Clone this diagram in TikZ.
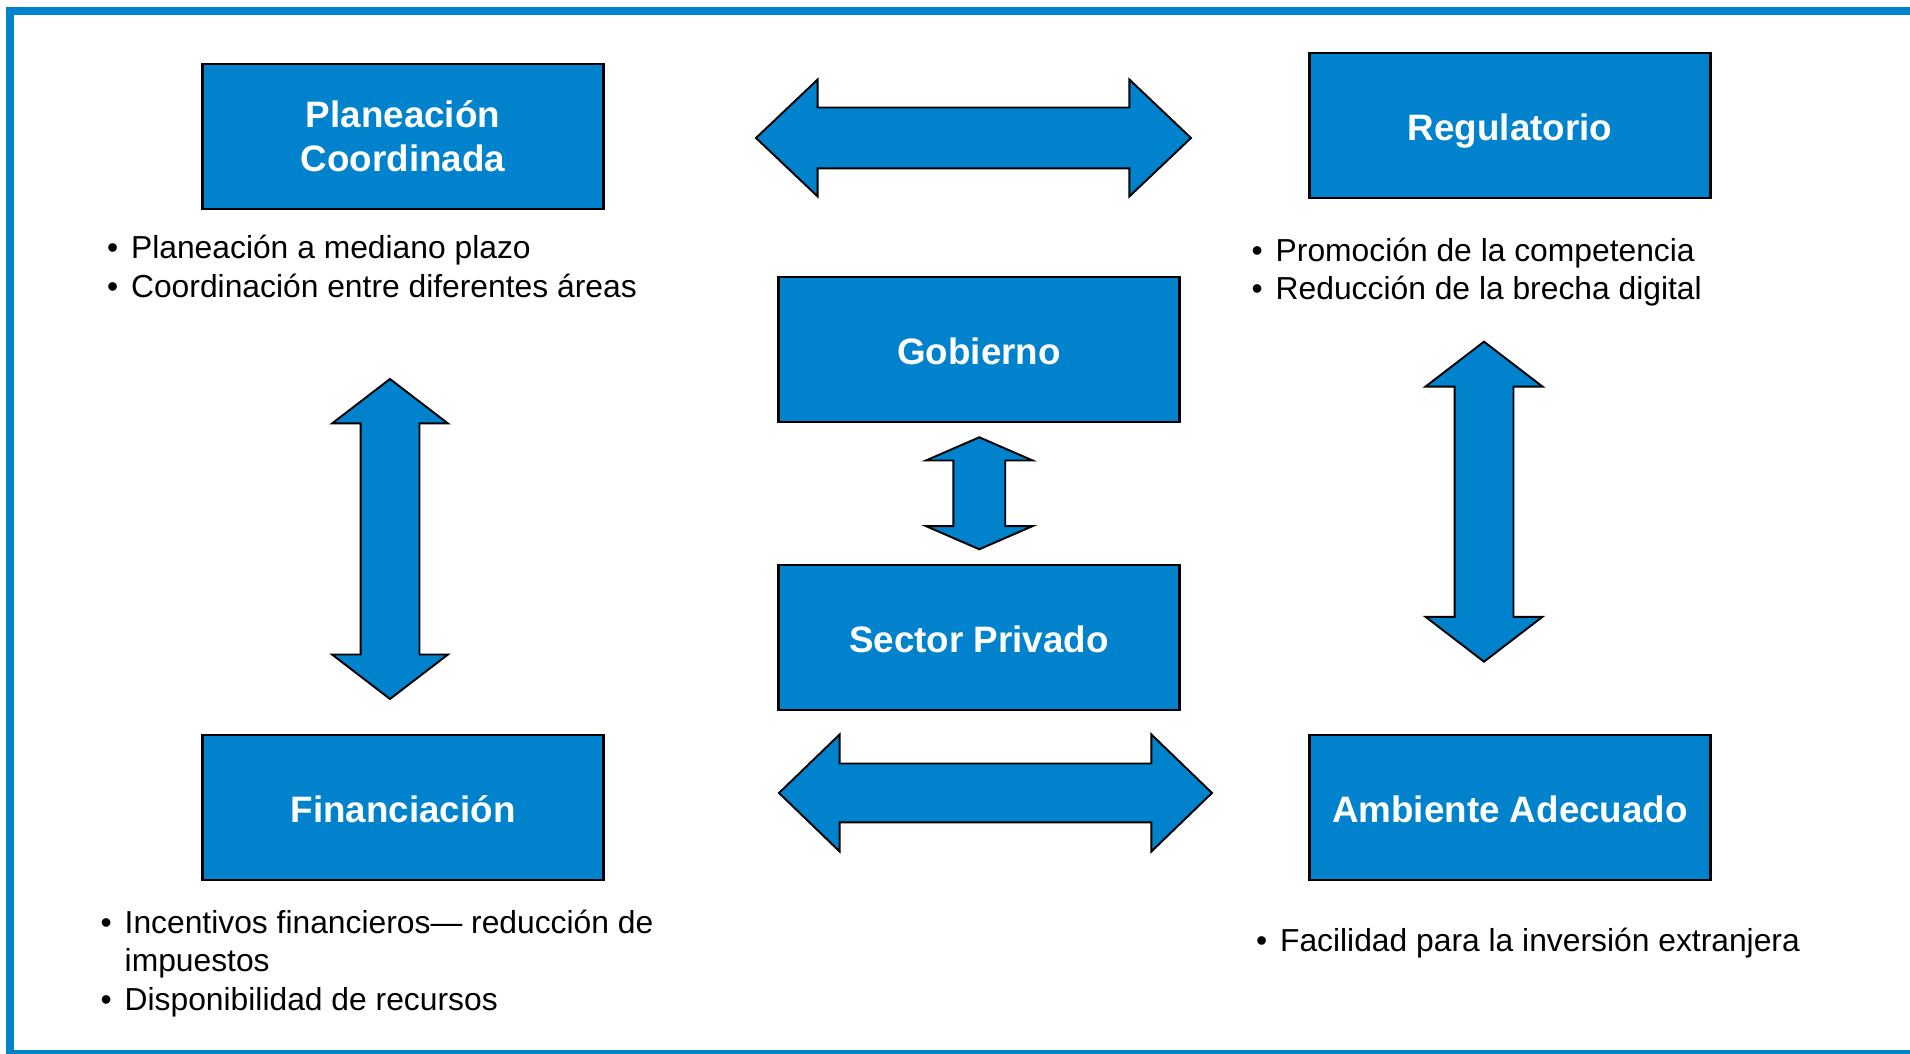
\documentclass[tikz,border=0pt]{standalone}
\usepackage{fontspec}
\setmainfont{Liberation Sans}
\usetikzlibrary{shapes.arrows}
\definecolor{azul}{RGB}{0,130,204}
\newcommand{\vineta}{\makebox[0.24cm][l]{•}}

\begin{document}
\begin{tikzpicture}[
  caja/.style={shape=rectangle, draw=black, line width=0.75pt, fill=azul, text=white, minimum width=4.01cm, minimum height=1.45cm, inner sep=0pt, align=center, font=\fontsize{10.47}{12.5}\selectfont\bfseries},
  linea/.style={text height=9.95pt, text depth=1.32pt},
  flecha/.style={shape=double arrow, draw=black, line width=0.55pt, fill=azul, inner sep=0pt, double arrow head indent=0pt},
  lista/.style={anchor=base west, inner sep=0pt, align=left, font=\fontsize{9.05}{10.96}\selectfont}]
\useasboundingbox (0,0) rectangle (19.10,10.54);
% marco
\draw[draw=azul, line width=0.08cm] (0.097,0) rectangle (19.5,10.432);
% cajas
\node[caja] (plan) at (4.03,9.175) {Planeación\\Coordinada};
\node[caja, linea] (reg) at (15.10,9.285) {Regulatorio};
\node[caja, linea] (gob) at (9.79,7.045) {Gobierno};
\node[caja, linea] (priv) at (9.79,4.165) {Sector Privado};
\node[caja, linea] (fin) at (4.03,2.465) {Financiación};
\node[caja, linea] (amb) at (15.10,2.465) {Ambiente Adecuado};
% flechas
\node[flecha, minimum height=4.35cm, minimum width=1.15cm, inner ysep=0.295cm, double arrow head extend=0.28cm, double arrow tip angle=87] (f1) at (9.735,9.16) {};
\node[flecha, minimum height=4.33cm, minimum width=1.15cm, inner ysep=0.285cm, double arrow head extend=0.29cm, double arrow tip angle=88] (f2) at (9.955,2.61) {};
\node[flecha, rotate=90, minimum height=3.2cm, minimum width=1.14cm, inner ysep=0.285cm, double arrow head extend=0.285cm, double arrow tip angle=105] (f3) at (3.90,5.15) {};
\node[flecha, rotate=90, minimum height=3.2cm, minimum width=1.15cm, inner ysep=0.285cm, double arrow head extend=0.29cm, double arrow tip angle=105] (f4) at (14.84,5.523) {};
\node[flecha, rotate=90, minimum height=1.12cm, minimum width=1.05cm, inner ysep=0.25cm, double arrow head extend=0.275cm, double arrow tip angle=133] (f5) at (9.793,5.607) {};
% listas
\node[lista] (l1) at (1.064,7.565) {\vineta Planeación a mediano plazo\\\vineta Coordinación entre diferentes áreas};
\node[lista] (l2) at (12.51,7.54) {\vineta Promoción de la competencia\\\vineta Reducción de la brecha digital};
\node[lista] (l3) at (1.00,0.435) {\vineta Incentivos financieros— reducción de\\\hspace{0.24cm}impuestos\\\vineta Disponibilidad de recursos};
\node[lista] (l4) at (12.554,1.02) {\vineta Facilidad para la inversión extranjera};
\end{tikzpicture}
\end{document}
